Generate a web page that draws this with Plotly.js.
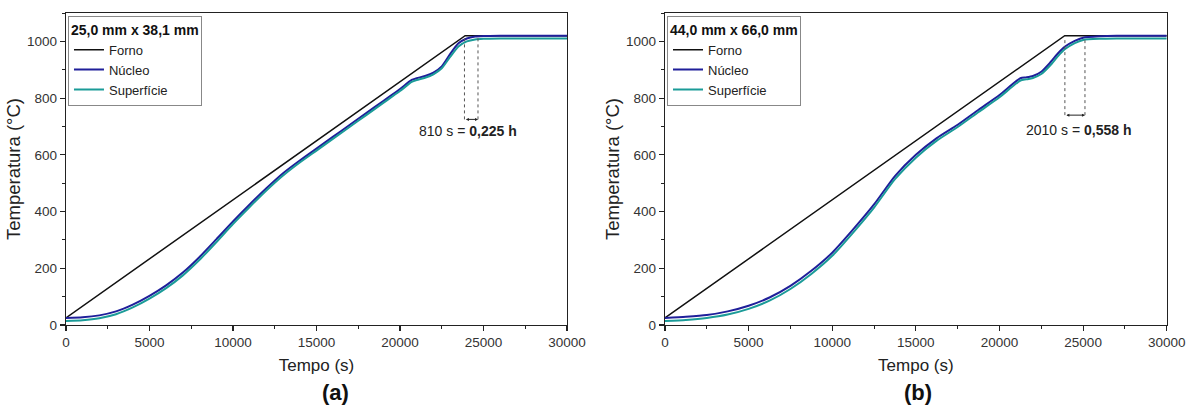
<!DOCTYPE html>
<html>
<head>
<meta charset="utf-8">
<script src="https://cdn.plot.ly/plotly-3.0.1.min.js"></script>
<style>html,body{margin:0;padding:0;background:#fff;}#chart{width:1199px;height:408px;}</style>
</head>
<body>
<div id="chart"></div>
<script>
// ---------- data ----------
const seriesNames = ["Forno", "Núcleo", "Superfície"];
const panelTitles = ["25,0 mm x 38,1 mm", "44,0 mm x 66,0 mm"];
const panelLabels = ["(a)", "(b)"];

const fornoT = [0, 23900, 30000];
const fornoV = [25, 1020, 1020];

const tA = [0,1000,2000,3000,4000,5000,6000,7000,8000,9000,10000,11000,12000,13000,14000,15000,16000,17000,18000,19000,20000,20700,21000,21500,22000,22500,23000,23500,24000,24500,25000,26000,30000];
const nucleoA = [25,27,34,48,72,103,140,185,240,302,365,425,482,535,580,622,664,706,748,790,832,864,870,878,890,912,955,993,1010,1017,1019,1020,1020];
const superficieA = [14,17,24,38,62,93,130,175,230,292,356,416,474,527,573,615,657,699,741,783,825,857,864,872,884,905,945,982,1000,1007,1009,1010,1010];

const tB = [0,1250,2500,3750,5000,6250,7500,8750,10000,11250,12500,13750,15000,16250,17500,18750,20000,21250,21600,22000,22500,23000,23500,23900,24500,25000,26000,27000,30000];
const nucleoB = [25,29,35,48,68,97,138,191,255,337,425,525,600,659,706,759,811,870,873,878,893,923,958,981,1002,1013,1018,1020,1020];
const superficieB = [14,18,25,37,57,86,127,180,244,326,414,514,590,650,698,751,803,862,866,871,885,913,948,972,994,1005,1009,1010,1010];

// annotation values (interval markers)
const markA = {x0: 23860, x1: 24670, yTop: 1015, yBot: 725, textX: 24100, textY: 683, secs: "810 s", hours: "0,225 h"};
const markB = {x0: 23910, x1: 25110, yTop: 1015, yBot: 740, textX: 24700, textY: 686, secs: "2010 s", hours: "0,558 h"};

const xTicks = [0, 5000, 10000, 15000, 20000, 25000, 30000];
const xTickLabels = ["0", "5000", "10000", "15000", "20000", "25000", "30000"];
const yTicks = [0, 200, 400, 600, 800, 1000];
const yTickLabels = ["0", "200", "400", "600", "800", "1000"];

// ---------- styles ----------
const colors = ["#111111", "#1f1f9a", "#1b9b98"];
const FONT = "Liberation Sans, Arial, sans-serif";

function mkTraces(t, nuc, sup, xa, ya, leg) {
  return [
    {x: fornoT, y: fornoV, name: seriesNames[0], mode: "lines", line: {color: colors[0], width: 1.5}, xaxis: xa, yaxis: ya, legend: leg},
    {x: t, y: nuc, name: seriesNames[1], mode: "lines", line: {color: colors[1], width: 2, shape: "spline", smoothing: 0.6}, xaxis: xa, yaxis: ya, legend: leg},
    {x: t, y: sup, name: seriesNames[2], mode: "lines", line: {color: colors[2], width: 2, shape: "spline", smoothing: 0.6}, xaxis: xa, yaxis: ya, legend: leg}
  ];
}

const data = [].concat(
  mkTraces(tA, nucleoA, superficieA, "x", "y", "legend"),
  mkTraces(tB, nucleoB, superficieB, "x2", "y2", "legend2")
);

function xAxis(domain, anchor) {
  return {
    domain: domain, anchor: anchor, range: [0, 30000], tickvals: xTicks, ticktext: xTickLabels,
    showline: true, mirror: true, linecolor: "#222", linewidth: 1.2,
    ticks: "outside", ticklen: 5, tickwidth: 1.2, tickcolor: "#222",
    minor: {dtick: 2500, ticks: "outside", ticklen: 3, tickwidth: 1, tickcolor: "#222"},
    showgrid: false, zeroline: false, automargin: false,
    tickfont: {family: FONT, size: 13.5, color: "#333"},
    title: {text: "Tempo (s)", font: {family: FONT, size: 17, color: "#222"}, standoff: 9}
  };
}
function yAxis(domain, anchor) {
  return {
    domain: domain, anchor: anchor, range: [0, 1100], tickvals: yTicks, ticktext: yTickLabels,
    showline: true, mirror: true, linecolor: "#222", linewidth: 1.2,
    ticks: "outside", ticklen: 5, tickwidth: 1.2, tickcolor: "#222",
    minor: {dtick: 100, ticks: "outside", ticklen: 3, tickwidth: 1, tickcolor: "#222"},
    showgrid: false, zeroline: false, automargin: false,
    tickfont: {family: FONT, size: 13.5, color: "#333"},
    title: {text: "Temperatura (°C)", font: {family: FONT, size: 18.5, color: "#222"}, standoff: 1}
  };
}

const yDom = [0.2034, 0.9681];

function mkLegend(x, title) {
  return {
    x: x, y: 0.962, xref: "paper", yref: "paper", xanchor: "left", yanchor: "top",
    bgcolor: "#fff", bordercolor: "#888", borderwidth: 1,
    font: {family: FONT, size: 13, color: "#222"},
    title: {text: "<b>" + title + "</b>", font: {family: FONT, size: 14, color: "#111"}},
    itemwidth: 30, tracegroupgap: 0
  };
}

function markShapes(m, xa, ya) {
  const base = {type: "line", xref: xa, yref: ya, line: {color: "#555", width: 1, dash: "dot"}};
  return [
    Object.assign({}, base, {x0: m.x0, x1: m.x0, y0: m.yBot, y1: m.yTop}),
    Object.assign({}, base, {x0: m.x1, x1: m.x1, y0: m.yBot, y1: m.yTop})
  ];
}
function markAnns(m, xa, ya) {
  return [
    {xref: xa, yref: ya, axref: xa, ayref: ya, x: m.x1, y: m.yBot, ax: m.x0, ay: m.yBot, text: "",
     showarrow: true, arrowhead: 2, arrowside: "end+start", arrowsize: 0.6, arrowwidth: 1, arrowcolor: "#222"},
    {xref: xa, yref: ya, x: m.textX, y: m.textY, text: m.secs + " = <b>" + m.hours + "</b>", showarrow: false,
     xanchor: "center", yanchor: "middle", font: {family: FONT, size: 14, color: "#222"}}
  ];
}

const layout = {
  width: 1199, height: 408,
  margin: {l: 0, r: 0, t: 0, b: 0},
  paper_bgcolor: "#fff", plot_bgcolor: "#fff",
  showlegend: true,
  xaxis: xAxis([0.055, 0.4729], "y"),
  yaxis: yAxis(yDom, "x"),
  xaxis2: xAxis([0.5546, 0.9731], "y2"),
  yaxis2: yAxis(yDom, "x2"),
  legend: mkLegend(0.0567, panelTitles[0]),
  legend2: mkLegend(0.5563, panelTitles[1]),
  shapes: [].concat(markShapes(markA, "x", "y"), markShapes(markB, "x2", "y2")),
  annotations: [].concat(
    markAnns(markA, "x", "y"), markAnns(markB, "x2", "y2"),
    [
      {xref: "paper", yref: "paper", x: 0.2794, y: 0.037, xanchor: "center", yanchor: "middle", text: "<b>" + panelLabels[0] + "</b>", showarrow: false, font: {family: FONT, size: 22, color: "#111"}},
      {xref: "paper", yref: "paper", x: 0.7656, y: 0.037, xanchor: "center", yanchor: "middle", text: "<b>" + panelLabels[1] + "</b>", showarrow: false, font: {family: FONT, size: 22, color: "#111"}}
    ]
  )
};

Plotly.newPlot("chart", data, layout, {displayModeBar: false, staticPlot: true});
</script>
</body>
</html>
